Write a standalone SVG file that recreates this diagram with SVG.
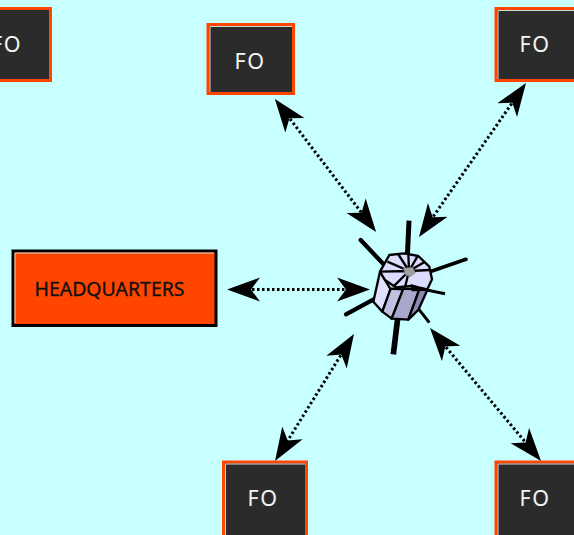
<svg xmlns="http://www.w3.org/2000/svg" width="574" height="535" viewBox="0 0 574 535">
<style>
.fo{fill:#2b2b2b;stroke:#ff4500;stroke-width:3}
.hi{fill:none;stroke:#d8d8d8;stroke-width:1}
.fot{font-family:"Noto Sans","Open Sans",sans-serif;font-size:21.500px;fill:#f4f4f4;letter-spacing:1.500px}
.hq{fill:#ff4500;stroke:#000;stroke-width:3}
.hqt{font-family:"Noto Sans","Open Sans",sans-serif;font-size:20px;fill:#111;stroke:#111;stroke-width:.35}
.c{fill:none;stroke:#000;stroke-width:3;stroke-dasharray:2.500 2.500;marker-start:url(#ah);marker-end:url(#ah)}
.a{stroke:#000;fill:none}
.s{stroke:#000;stroke-width:7;stroke-linejoin:round}
</style>
<defs>
<marker id="ah" markerUnits="userSpaceOnUse" markerWidth="34" markerHeight="26" refX="13" refY="12.500" orient="auto-start-reverse">
<path d="M33,12.500 L0,0.500 L9,12.500 L0,24.500 Z" fill="#000"/>
</marker>
</defs>
<rect width="574" height="535" fill="#c8ffff"/>
<g id="connectors">
<line class="c" x1="287" y1="115" x2="364" y2="216"/>
<line class="c" x1="514.600" y1="99.400" x2="430.400" y2="220.600"/>
<line class="c" x1="247" y1="289.500" x2="350" y2="289.500"/>
<line class="c" x1="343.400" y1="351" x2="285.600" y2="444"/>
<line class="c" x1="442.800" y1="343.400" x2="528.200" y2="445.600"/>
</g>
<g id="fo-top-left">
<rect class="fo" x="-10" y="8.500" width="60.500" height="72"/>
<text class="fot" x="-9" y="52">FO</text>
</g>
<g id="fo-top-middle">
<rect class="fo" x="208" y="24.500" width="85.500" height="69"/>
<path class="hi" d="M210,92 V26.500 H292"/>
<text class="fot" x="234.500" y="68.500">FO</text>
</g>
<g id="fo-top-right">
<rect class="fo" x="496" y="8.500" width="90" height="72"/>
<path class="hi" d="M498,79 V10.500 H574"/>
<text class="fot" x="519.500" y="52">FO</text>
</g>
<g id="fo-bottom-middle">
<rect class="fo" x="223.500" y="462" width="83" height="80"/>
<path class="hi" d="M225.500,535 V464 H305"/>
<text class="fot" x="247.500" y="506">FO</text>
</g>
<g id="fo-bottom-right">
<rect class="fo" x="496" y="462" width="90" height="80"/>
<path class="hi" d="M498,535 V464 H574"/>
<text class="fot" x="519.500" y="506">FO</text>
</g>
<g id="headquarters">
<rect class="hq" x="13" y="251" width="203" height="74.500"/>
<path class="hi" d="M15,323 V253 H214" stroke="#b08070"/>
<text class="hqt" x="34.500" y="295.500" textLength="150" lengthAdjust="spacingAndGlyphs">HEADQUARTERS</text>
</g>
<g id="satellite" transform="translate(330,200) scale(.33333)">
<line class="a" x1="237" y1="62" x2="232" y2="170" stroke-width="15"/>
<line class="a" x1="92" y1="120" x2="175" y2="208" stroke-width="13" stroke-linecap="round"/>
<line class="a" x1="408" y1="178" x2="295" y2="217" stroke-width="11" stroke-linecap="round"/>
<line class="a" x1="190" y1="463" x2="203" y2="355" stroke-width="17"/>
<line class="a" x1="48" y1="343" x2="135" y2="296" stroke-width="13" stroke-linecap="round"/>
<line class="a" x1="298" y1="368" x2="262" y2="322" stroke-width="9"/>
<path class="s" fill="#e0e0ff" d="M150,215 L130,305 L157,335 L182,268 L165,240 Z"/>
<path class="s" fill="#c0c0e2" d="M182,266 L157,335 L185,356 L220,268 Z"/>
<path class="s" fill="#a8a8cc" d="M220,266 L185,356 L235,359 L268,268 Z"/>
<path class="s" fill="#8888b0" d="M268,268 L235,359 L265,330 L292,270 Z"/>
<path class="s" fill="#dcdcff" d="M178,165 L222,160 L265,168 L298,200 L306,238 L292,268 L245,258 L197,262 L165,240 L150,215 Z"/>
<path stroke="#000" stroke-width="7" fill="none" d="M237,213 L205,163 M237,213 L172,185 M237,213 L152,215 M237,213 L190,260 M237,213 L225,262 M237,213 L300,210 M237,213 L262,170 M237,213 L235,160 M237,213 L285,185"/>
<path d="M220,205 L248,202 L256,218 L240,230 L226,224 Z" fill="#a0a0a0" stroke="#777" stroke-width="2"/>
<line class="a" x1="345" y1="281" x2="250" y2="262" stroke-width="9"/>
<path d="M242,252 L262,258 L262,274 L245,274 Z" fill="#000"/>
</g>
</svg>
